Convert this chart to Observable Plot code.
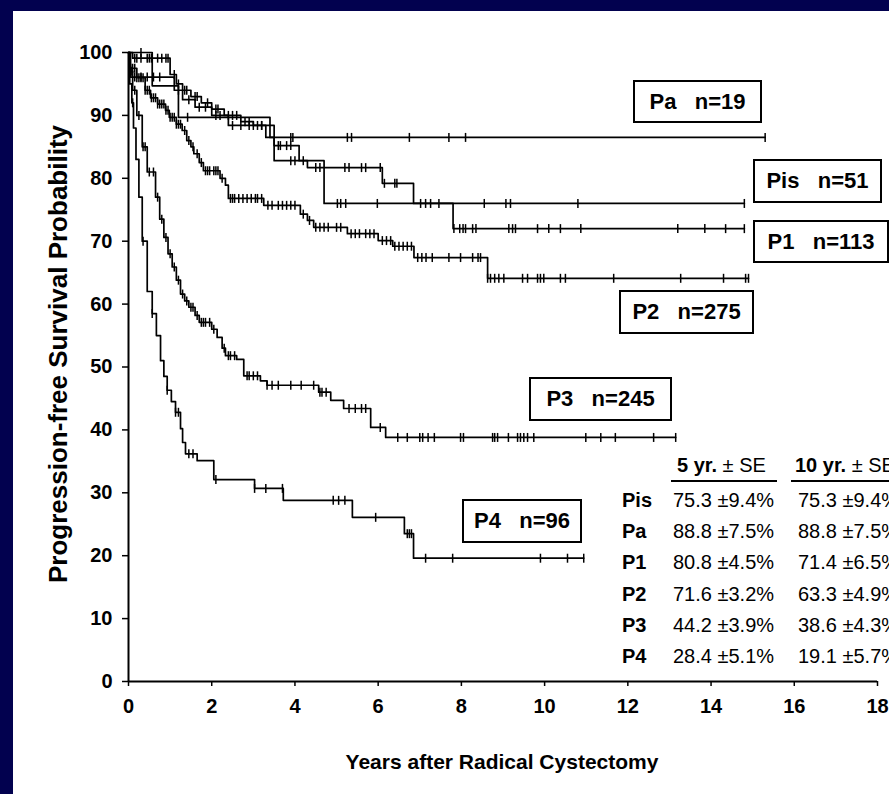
<!DOCTYPE html>
<html><head><meta charset="utf-8">
<script src="https://cdn.jsdelivr.net/npm/d3@7"></script>
<script src="https://cdn.jsdelivr.net/npm/@observablehq/plot@0.6"></script>
<style>
html,body{margin:0;padding:0}
body{background:#02014f;width:889px;height:794px;overflow:hidden;position:relative;font-family:"Liberation Sans",Arial,sans-serif;color:#000}
#panel{position:absolute;left:13px;top:11px;width:876px;height:783px;background:#fff}
#chart{position:absolute;left:0;top:0}
.box{position:absolute;border:2px solid #000;background:#fff;font-weight:bold;font-size:22px;display:flex;align-items:center;justify-content:center;white-space:pre;box-sizing:border-box}
.t{position:absolute;white-space:pre;font-size:20px;line-height:1}
.b{font-weight:bold}
.rule{position:absolute;height:2px;background:#000}
#ylab{position:absolute;left:58px;top:354px;transform:translate(-50%,-50%) rotate(-90deg);font-weight:bold;font-size:26px;white-space:nowrap}
#xlab{position:absolute;left:502px;top:762px;transform:translate(-50%,-50%);font-weight:bold;font-size:21px;white-space:nowrap}
</style></head>
<body>
<div id="panel"></div>
<div id="chart"></div>
<div id="ylab">Progression-free Survival Probability</div>
<div id="xlab">Years after Radical Cystectomy</div>
<script>
// ---- data ----
const groups = ["Pis", "Pa", "P1", "P2", "P3", "P4"];
const groupN = [51, 19, 113, 275, 245, 96];
const fiveYear = ["75.3 \u00b19.4%", "88.8 \u00b17.5%", "80.8 \u00b14.5%", "71.6 \u00b13.2%", "44.2 \u00b13.9%", "28.4 \u00b15.1%"];
const tenYear  = ["75.3 \u00b19.4%", "88.8 \u00b17.5%", "71.4 \u00b16.5%", "63.3 \u00b14.9%", "38.6 \u00b14.3%", "19.1 \u00b15.7%"];
const xTicks = [0, 2, 4, 6, 8, 10, 12, 14, 16, 18];
const yTicks = [0, 10, 20, 30, 40, 50, 60, 70, 80, 90, 100];

// step points [years, survival %], last follow-up, censored times
const paSteps = [[0,100],[0.57,94.7],[1.2,89.7],[3.4,86.5]];
const paEnd = 15.3;
const paCensor = [0.3,1.42,3.9,3.95,5.26,5.36,6.75,7.7,8.1,15.3];

const pisSteps = [[0,100],[0.05,96.1],[1.1,94],[1.3,92.5],[1.6,91.3],[2.0,90],[2.4,88.4],[3.5,82.8],[4.7,76.0]];
const pisEnd = 14.8;
const pisCensor = [0.15,0.3,0.45,0.6,0.75,1.2,1.45,1.7,1.85,2.1,2.2,2.5,2.7,2.9,3.0,3.2,3.9,4.0,5.02,5.1,5.22,5.98,8.55,9.07,9.18,10.8,14.8];

const p1Steps = [[0,100],[0.1,99.1],[1.0,96.5],[1.15,95],[1.3,94],[1.5,93],[1.75,92],[2.0,91],[2.3,90],[2.7,89],[3.0,88.4],[3.3,86.5],[3.5,85.2],[4.1,82.8],[4.3,81.7],[6.1,79.2],[6.85,76],[7.8,72]];
const p1End = 14.8;
const p1Censor = [0.15,0.2,0.3,0.45,0.5,0.55,0.7,0.8,0.9,0.95,1.1,1.2,1.35,1.4,1.6,1.65,1.9,2.1,2.15,2.4,2.5,2.6,2.8,2.9,3.1,3.2,3.6,3.65,3.8,3.9,4.2,4.5,4.6,5.2,5.3,5.6,5.7,6.05,6.15,6.4,6.45,7.02,7.14,7.26,7.46,7.82,7.96,8.04,8.1,8.27,8.35,9.14,9.23,9.3,9.83,10.1,10.38,10.87,13.2,13.85,14.35,14.8];

const p2Steps = [[0,100],[0.02,97.5],[0.2,96],[0.4,94],[0.53,92.8],[0.7,91.8],[0.89,90.8],[0.98,89.7],[1.15,88.6],[1.29,87.6],[1.4,86],[1.5,85],[1.57,83.9],[1.7,82.5],[1.8,81.2],[2.2,80],[2.33,78.9],[2.4,76.8],[3.25,75.7],[4.13,74.3],[4.3,73.3],[4.45,72.2],[5.26,71.2],[6.0,70.1],[6.35,69.2],[6.86,67.4],[8.63,64.1]];
const p2End = 14.9;
const p2Censor = [0.05,0.1,0.15,0.2,0.25,0.3,0.35,0.4,0.45,0.5,0.55,0.6,0.65,0.7,0.75,0.8,0.85,0.9,0.95,1.0,1.05,1.1,1.15,1.2,1.25,1.35,1.45,1.55,1.65,1.75,1.85,1.9,1.95,2.05,2.1,2.15,2.25,2.45,2.5,2.55,2.65,2.75,2.85,2.95,3.05,3.1,3.2,3.35,3.45,3.6,3.7,3.8,3.9,4.0,4.2,4.35,4.5,4.6,4.7,4.8,5.0,5.1,5.35,5.45,5.55,5.7,5.8,5.9,6.1,6.2,6.3,6.4,6.5,6.6,6.7,6.8,6.95,7.05,7.15,7.3,7.7,7.98,8.27,8.4,8.46,8.63,8.7,8.8,8.9,9.02,9.47,9.59,9.83,9.9,9.98,10.38,10.5,11.66,13.27,14.3,14.83,14.9];

const p3Steps = [[0,100],[0.03,97],[0.1,94],[0.2,90],[0.33,85],[0.45,81],[0.65,77],[0.75,73.5],[0.85,70.6],[0.95,68],[1.05,65.9],[1.15,63.8],[1.25,61.6],[1.35,60.5],[1.45,59.5],[1.6,58.2],[1.7,57.1],[2.0,56],[2.13,54.7],[2.25,53],[2.33,51.8],[2.6,51.2],[2.77,48.6],[3.17,47.8],[3.33,47.1],[4.57,46],[4.86,44.7],[5.17,43.4],[5.82,40.4],[6.18,38.8]];
const p3End = 13.15;
const p3Censor = [0.08,0.15,0.25,0.35,0.4,0.5,0.6,0.7,0.8,0.9,1.0,1.1,1.2,1.3,1.4,1.5,1.55,1.65,1.75,1.8,1.85,1.95,2.05,2.3,2.4,2.45,2.55,2.85,2.9,3.0,3.1,3.33,3.45,3.6,3.9,4.15,4.45,4.6,4.65,4.75,5.3,5.45,5.6,5.7,6.05,6.47,6.7,7.0,7.07,7.2,7.35,7.98,8.05,8.75,8.8,8.87,9.13,9.35,9.42,9.5,9.59,9.74,10.99,11.35,11.7,12.62,13.15];

const p4Steps = [[0,100],[0.03,95],[0.08,92],[0.12,88],[0.18,83],[0.25,77],[0.33,70],[0.45,62],[0.57,58.5],[0.67,55],[0.77,51],[0.85,48.5],[0.93,46.3],[1.03,44.5],[1.13,42.8],[1.25,40.2],[1.3,38],[1.37,36.2],[1.65,35.1],[2.05,32.1],[3.03,30.7],[3.72,28.8],[5.38,26.1],[6.63,23.5],[6.85,19.6]];
const p4End = 10.94;
const p4Censor = [0.1,0.35,0.57,0.93,1.13,1.2,1.45,1.55,2.1,3.03,3.3,3.7,4.92,5.05,5.2,5.94,6.7,6.75,6.8,7.14,7.79,9.9,10.55,10.94];

// ---- build tables for Plot ----
const series = [
  ["Pa", paSteps, paEnd, paCensor],
  ["Pis", pisSteps, pisEnd, pisCensor],
  ["P1", p1Steps, p1End, p1Censor],
  ["P2", p2Steps, p2End, p2Censor],
  ["P3", p3Steps, p3End, p3Censor],
  ["P4", p4Steps, p4End, p4Censor]
];
const lineData = [];
const censorData = [];
for (const [g, steps, end, cens] of series) {
  for (const [t, s] of steps) lineData.push({g, t, s});
  lineData.push({g, t: end, s: steps[steps.length - 1][1]});
  for (const t of cens) {
    let s = steps[0][1];
    for (const [tt, ss] of steps) if (tt <= t) s = ss;
    censorData.push({g, t, s});
  }
}
const tickSymbol = {draw(ctx, size) { const h = Math.sqrt(size / Math.PI); ctx.moveTo(0, -h); ctx.lineTo(0, h); }};

const chart = Plot.plot({
  width: 889, height: 794,
  marginLeft: 128, marginRight: 12, marginTop: 52, marginBottom: 113,
  style: {background: "transparent", fontFamily: "'Liberation Sans', Arial, sans-serif", fontSize: "20px", fontWeight: "bold", color: "#000"},
  x: {domain: [0, 18]},
  y: {domain: [0, 100]},
  marks: [
    Plot.axisX({ticks: xTicks, tickSize: 5, tickPadding: 12, label: null, strokeWidth: 1.5}),
    Plot.axisY({ticks: yTicks, tickSize: 6, tickPadding: 10, label: null, strokeWidth: 1.5}),
    Plot.ruleY([0], {stroke: "#000", strokeWidth: 2}),
    Plot.ruleX([0], {stroke: "#000", strokeWidth: 2}),
    Plot.line(lineData, {x: "t", y: "s", z: "g", curve: "step-after", stroke: "#000", strokeWidth: 1.7}),
    Plot.dot(censorData, {x: "t", y: "s", symbol: tickSymbol, r: 4.5, stroke: "#000", fill: "none", strokeWidth: 1.5})
  ]
});
document.getElementById("chart").appendChild(chart);

// ---- annotations ----
const boxPos = {Pa: [633, 80, 129, 43], Pis: [753, 159, 129, 44], P1: [753, 220, 136, 43], P2: [619, 290, 135, 44], P3: [529, 377, 143, 44], P4: [462, 499, 120, 44]};
groups.forEach((g, i) => {
  const [l, t, w, h] = boxPos[g];
  const d = document.createElement("div");
  d.className = "box";
  d.style.left = l + "px"; d.style.top = t + "px"; d.style.width = w + "px"; d.style.height = h + "px";
  d.textContent = g + "   n=" + groupN[i];
  document.body.appendChild(d);
});
function addText(html, left, cy) {
  const d = document.createElement("div");
  d.className = "t";
  d.innerHTML = html;
  d.style.left = left + "px"; d.style.top = (cy - 10) + "px";
  document.body.appendChild(d);
}
addText('<span class="b">5 yr.</span> \u00b1 SE', 677, 465);
addText('<span class="b">10 yr.</span> \u00b1 SE', 795, 465);
for (const [l, w] of [[671, 106], [791, 98]]) {
  const r = document.createElement("div");
  r.className = "rule";
  r.style.left = l + "px"; r.style.top = "480px"; r.style.width = w + "px";
  document.body.appendChild(r);
}
groups.forEach((g, i) => {
  const cy = 500 + i * 31.2;
  addText('<span class="b">' + g + '</span>', 622, cy);
  addText(fiveYear[i], 673, cy);
  addText(tenYear[i], 798, cy);
});
</script>
</body></html>
